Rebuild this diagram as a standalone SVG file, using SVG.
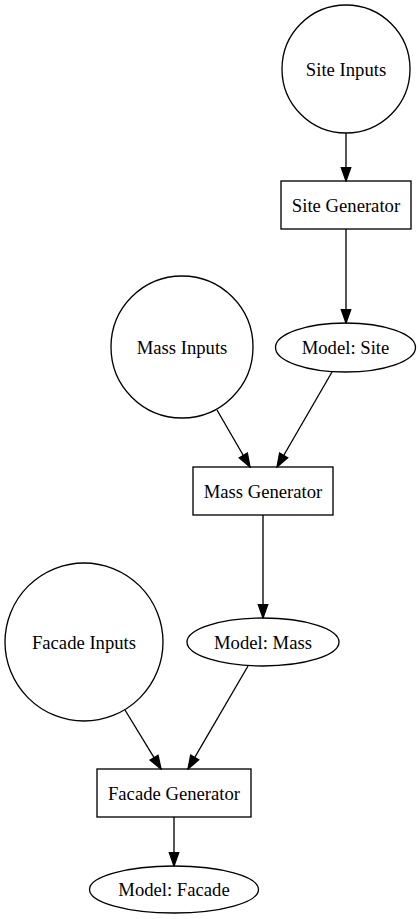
<svg xmlns="http://www.w3.org/2000/svg" width="420" height="919" viewBox="0 0 420 919">
<style>
.n{fill:none;stroke:#000;stroke-width:1.33}
.t{font-family:"Liberation Serif","Times New Roman",serif;font-size:18.67px;text-anchor:middle;fill:#000}
.e{fill:none;stroke:#000;stroke-width:1.33}
</style>
<defs>
<marker id="ah" viewBox="-1 -1 12 9" refX="10" refY="3.5" markerWidth="16" markerHeight="12" markerUnits="userSpaceOnUse" orient="auto">
<path d="M0,0 L10,3.5 L0,7 z" fill="#000" stroke="#000" stroke-width="1"/>
</marker>
</defs>
<rect width="420" height="919" fill="#fff"/>
<g id="edges">
<path class="e" marker-end="url(#ah)" d="M346,133 L346,181"/>
<path class="e" marker-end="url(#ah)" d="M346,229 L346,323"/>
<path class="e" marker-end="url(#ah)" d="M217,410 L250,467"/>
<path class="e" marker-end="url(#ah)" d="M332,372 L277,467"/>
<path class="e" marker-end="url(#ah)" d="M263,515 L263,618"/>
<path class="e" marker-end="url(#ah)" d="M125,710 L161,769"/>
<path class="e" marker-end="url(#ah)" d="M248,666 L188,769"/>
<path class="e" marker-end="url(#ah)" d="M174,817 L174,866"/>
</g>
<g id="site_inputs">
<circle class="n" cx="346" cy="69" r="64"/>
<text class="t" x="346" y="75.5">Site Inputs</text>
</g>
<g id="site_generator">
<rect class="n" x="281" y="181" width="130" height="48"/>
<text class="t" x="346" y="211.5">Site Generator</text>
</g>
<g id="model_site">
<ellipse class="n" cx="345.5" cy="347.5" rx="70" ry="24.5"/>
<text class="t" x="345.5" y="354">Model: Site</text>
</g>
<g id="mass_inputs">
<circle class="n" cx="182" cy="347" r="71"/>
<text class="t" x="182" y="353.5">Mass Inputs</text>
</g>
<g id="mass_generator">
<rect class="n" x="193" y="467" width="140" height="48"/>
<text class="t" x="263" y="497.5">Mass Generator</text>
</g>
<g id="model_mass">
<ellipse class="n" cx="263" cy="642" rx="76" ry="24"/>
<text class="t" x="263" y="648.5">Model: Mass</text>
</g>
<g id="facade_inputs">
<circle class="n" cx="84" cy="642" r="79"/>
<text class="t" x="84" y="648.5">Facade Inputs</text>
</g>
<g id="facade_generator">
<rect class="n" x="97" y="769" width="154" height="48"/>
<text class="t" x="174" y="799.5">Facade Generator</text>
</g>
<g id="model_facade">
<ellipse class="n" cx="174" cy="889.5" rx="84.5" ry="23.5"/>
<text class="t" x="174" y="896">Model: Facade</text>
</g>
</svg>
